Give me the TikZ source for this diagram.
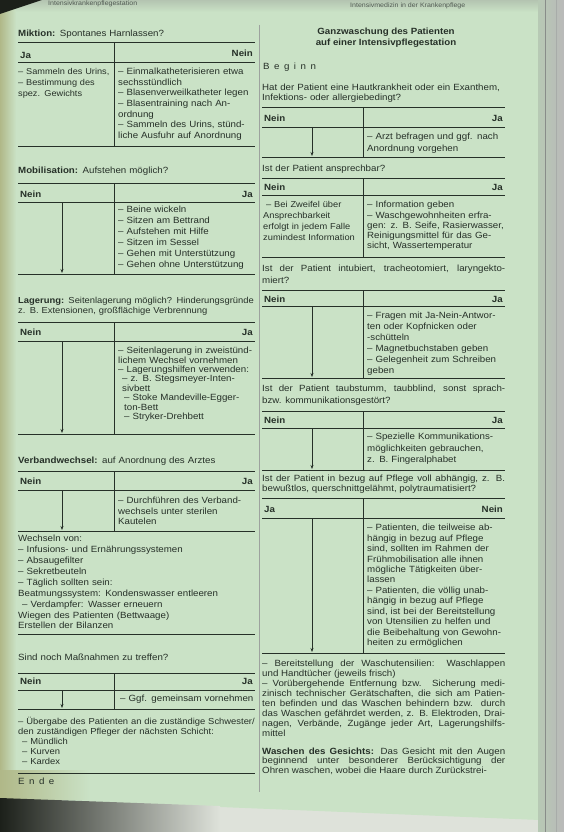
\documentclass[tikz,border=0pt]{standalone}
\usepackage{fontspec}
\setmainfont{Liberation Sans}[FakeStretch=1.08]
\usetikzlibrary{arrows.meta,positioning}
\definecolor{page}{RGB}{202,226,198}
\definecolor{ink}{RGB}{38,48,40}
\definecolor{edge}{RGB}{176,184,136}
\definecolor{shadow}{RGB}{28,32,26}
\definecolor{paper}{RGB}{222,226,218}
\newcommand\bodyfont{\fontsize{9}{10.6}\selectfont}
\tikzset{
  txt/.style={anchor=north west,inner sep=0pt,align=left,text=ink,font=\bodyfont},
  hdl/.style={anchor=west,inner sep=0pt,text=ink,font=\bodyfont\bfseries},
  hdr/.style={anchor=east,inner sep=0pt,text=ink,font=\bodyfont\bfseries},
  rulee/.style={draw=ink,line width=0.8pt},
  flow/.style={draw=ink,line width=0.6pt,-{Stealth[length=4pt,width=3pt]}},
}
\begin{document}
\begin{tikzpicture}[x=1pt,y=-1pt]
	\useasboundingbox (0,0) rectangle (564,832);
	% Seite
	\fill[paper] (0,0) rectangle (564,832);
	\fill[page] (0,0) -- (538,0) -- (540,820) -- (0,798) -- cycle;
	\shade[left color=edge,right color=page] (0,0) rectangle (16,798);
	\shade[top color=page!70!gray,bottom color=page] (16,0) rectangle (538,12);
	\fill[shadow] (0,0) -- (42,0) -- (0,14) -- cycle;
	\shade[left color=edge,right color=page] (0,770) rectangle (90,799);
	\shade[left color=shadow,right color=paper] (0,798) -- (220,806) -- (220,832) -- (0,832) -- cycle;
	\shade[left color=page!75!gray,right color=gray!55] (538,0) rectangle (564,832);
	\draw[ink!55,line width=0.8pt] (545,0) -- (545,832);
	\draw[ink!40,line width=0.6pt] (556,0) -- (556,832);
	\draw[ink!45,line width=0.6pt] (259,25) -- (259,792);

	\begin{scope}[every node/.style={txt,font=\fontsize{6.5}{7}\selectfont,text=ink!80}]
		\node (kopfL) at (48,1) {Intensivkrankenpflegestation};
		\node (kopfR) at (350,3) {Intensivmedizin in der Krankenpflege};
	\end{scope}

	% linke Spalte
	\foreach \y in {42,62,146,183,202,274,322,341,434,471,490,531,634,673,690,709,773}
		\draw[rulee] (18,\y) -- (255,\y);
	\draw[rulee] (114,42) -- (114,146);
	\draw[rulee] (114,183) -- (114,274);
	\draw[rulee] (114,322) -- (114,434);
	\draw[rulee] (114,471) -- (114,531);
	\draw[rulee] (114,673) -- (114,709);

	\node[txt,text width=237] (miktion) at (18,30) {\textbf{Miktion:} Spontanes Harnlassen?};
	\node[hdl] (miktionJa) at (20,55) {Ja};
	\node[hdr] (miktionNein) at (253,53) {Nein};
	\node[txt,text width=100,font=\fontsize{8.5}{11}\selectfont] (miktionL) at (18,68) {– Sammeln des Urins,\\– Bestimmung des\\spez. Gewichts};
	\node[txt,text width=140] (miktionR) at (118,68) {– Einmalkatheterisieren etwa\\sechsstündlich\\– Blasenverweilkatheter legen\\– Blasentraining nach An-\\ordnung\\– Sammeln des Urins, stünd-\\liche Ausfuhr auf Anordnung};

	\node[txt,text width=237] (mobil) at (18,167) {\textbf{Mobilisation:} Aufstehen möglich?};
	\node[hdl] (mobilNein) at (20,194) {Nein};
	\node[hdr] (mobilJa) at (253,194) {Ja};
	\node[txt,text width=140,font=\fontsize{9}{11}\selectfont] (mobilR) at (118,206) {– Beine wickeln\\– Sitzen am Bettrand\\– Aufstehen mit Hilfe\\– Sitzen im Sessel\\– Gehen mit Unterstützung\\– Gehen ohne Unterstützung};
	\coordinate (mobilA) at (62,202);
	\coordinate (mobilB) at (62,273);
	\draw[flow] (mobilA) -- (mobilB);

	\node[txt,text width=242,font=\fontsize{8.7}{10}\selectfont] (lager) at (18,297) {\textbf{Lagerung:} Seitenlagerung möglich? Hinderungsgründe\\z. B. Extensionen, großflächige Verbrennung};
	\node[hdl] (lagerNein) at (20,332) {Nein};
	\node[hdr] (lagerJa) at (253,332) {Ja};
	\node[txt,text width=140,font=\fontsize{9}{9.4}\selectfont] (lagerR) at (118,347) {– Seitenlagerung in zweistünd-\\lichem Wechsel vornehmen\\– Lagerungshilfen verwenden:\\\hspace*{4pt}– z. B. Stegsmeyer-Inten-\\\hspace*{4pt}sivbett\\\hspace*{6pt}– Stoke Mandeville-Egger-\\\hspace*{6pt}ton-Bett\\\hspace*{6pt}– Stryker-Drehbett};
	\coordinate (lagerA) at (62,341);
	\coordinate (lagerB) at (62,433);
	\draw[flow] (lagerA) -- (lagerB);

	\node[txt,text width=237] (verband) at (18,457) {\textbf{Verbandwechsel:} auf Anordnung des Arztes};
	\node[hdl] (verbandNein) at (20,481) {Nein};
	\node[hdr] (verbandJa) at (253,481) {Ja};
	\node[txt,text width=140] (verbandR) at (118,497) {– Durchführen des Verband-\\wechsels unter sterilen\\Kautelen};
	\coordinate (verbandA) at (62,490);
	\coordinate (verbandB) at (62,530);
	\draw[flow] (verbandA) -- (verbandB);

	\node[txt,text width=240,font=\fontsize{9}{10.9}\selectfont] (wechsel) at (18,535) {Wechseln von:\\– Infusions- und Ernährungssystemen\\– Absaugefilter\\– Sekretbeuteln\\– Täglich sollten sein:\\Beatmungssystem: Kondenswasser entleeren\\\hspace*{4pt}– Verdampfer: Wasser erneuern\\Wiegen des Patienten (Bettwaage)\\Erstellen der Bilanzen};

	\node[txt,text width=237] (massn) at (18,654) {Sind noch Maßnahmen zu treffen?};
	\node[hdl] (massnNein) at (20,681) {Nein};
	\node[hdr] (massnJa) at (253,681) {Ja};
	\node[txt,text width=140] (massnR) at (120,695) {– Ggf. gemeinsam vornehmen};
	\coordinate (massnA) at (62,690);
	\coordinate (massnB) at (62,708);
	\draw[flow] (massnA) -- (massnB);

	\node[txt,text width=242,font=\fontsize{8.7}{10}\selectfont] (uebergabe) at (18,717) {– Übergabe des Patienten an die zuständige Schwester/\\den zuständigen Pfleger der nächsten Schicht:\\\hspace*{4pt}– Mündlich\\\hspace*{4pt}– Kurven\\\hspace*{4pt}– Kardex};
	\node[txt] (ende) at (18,778) {E\enspace n\enspace d\enspace e};

	% rechte Spalte
	\foreach \y in {107,127,157,178,195,257,290,306,378,411,428,470,498,518,653}
		\draw[rulee] (262,\y) -- (505,\y);
	\draw[rulee] (363,107) -- (363,157);
	\draw[rulee] (363,178) -- (363,257);
	\draw[rulee] (363,290) -- (363,378);
	\draw[rulee] (363,411) -- (363,470);
	\draw[rulee] (363,498) -- (363,653);

	\node[txt,anchor=north,align=center,font=\fontsize{9}{10.5}\selectfont\bfseries] (titel) at (386,28) {Ganzwaschung des Patienten\\auf einer Intensivpflegestation};
	\node[txt] (beginn) at (263,63) {B\enspace e\enspace g\enspace i\enspace n\enspace n};

	\node[txt,text width=244,font=\fontsize{9}{9.8}\selectfont] (haut) at (262,84) {Hat der Patient eine Hautkrankheit oder ein Exanthem,\\Infektions- oder allergiebedingt?};
	\node[hdl] (hautNein) at (264,118) {Nein};
	\node[hdr] (hautJa) at (503,118) {Ja};
	\node[txt,text width=140,font=\fontsize{9}{11.5}\selectfont] (hautR) at (367,133) {– Arzt befragen und ggf. nach\\Anordnung vorgehen};
	\coordinate (hautA) at (312,127);
	\coordinate (hautB) at (312,156);
	\draw[flow] (hautA) -- (hautB);

	\node[txt,text width=244] (ansprech) at (262,165) {Ist der Patient ansprechbar?};
	\node[hdl] (ansprechNein) at (264,187) {Nein};
	\node[hdr] (ansprechJa) at (503,187) {Ja};
	\node[txt,text width=98,font=\fontsize{8.6}{11}\selectfont] (ansprechL) at (263,201) {\hspace*{3pt}– Bei Zweifel über\\Ansprechbarkeit\\erfolgt in jedem Falle\\zumindest Information};
	\node[txt,text width=140,font=\fontsize{9}{10.3}\selectfont] (ansprechR) at (367,201) {– Information geben\\– Waschgewohnheiten erfra-\\gen: z. B. Seife, Rasierwasser,\\Reinigungsmittel für das Ge-\\sicht, Wassertemperatur};

	\node[txt,text width=243,align=justify,font=\fontsize{9}{11.5}\selectfont] (intub) at (262,265) {Ist der Patient intubiert, tracheotomiert, laryngekto-\linebreak miert?};
	\node[hdl] (intubNein) at (264,299) {Nein};
	\node[hdr] (intubJa) at (503,299) {Ja};
	\node[txt,text width=140,font=\fontsize{9}{11}\selectfont] (intubR) at (367,312) {– Fragen mit Ja-Nein-Antwor-\\ten oder Kopfnicken oder\\-schütteln\\– Magnetbuchstaben geben\\– Gelegenheit zum Schreiben\\geben};
	\coordinate (intubA) at (312,306);
	\coordinate (intubB) at (312,377);
	\draw[flow] (intubA) -- (intubB);

	\node[txt,text width=243,align=justify,font=\fontsize{9}{11.5}\selectfont] (taub) at (262,385) {Ist der Patient taubstumm, taubblind, sonst sprach-\linebreak bzw. kommunikationsgestört?};
	\node[hdl] (taubNein) at (264,420) {Nein};
	\node[hdr] (taubJa) at (503,420) {Ja};
	\node[txt,text width=140,font=\fontsize{9}{11.3}\selectfont] (taubR) at (367,433) {– Spezielle Kommunikations-\\möglichkeiten gebrauchen,\\z. B. Fingeralphabet};
	\coordinate (taubA) at (312,428);
	\coordinate (taubB) at (312,469);
	\draw[flow] (taubA) -- (taubB);

	\node[txt,text width=243,align=justify,font=\fontsize{9}{10.2}\selectfont] (abh) at (262,475) {Ist der Patient in bezug auf Pflege voll abhängig, z. B.\linebreak bewußtlos, querschnittgelähmt, polytraumatisiert?};
	\node[hdl] (abhJa) at (264,509) {Ja};
	\node[hdr] (abhNein) at (503,509) {Nein};
	\node[txt,text width=142,font=\fontsize{9}{10.45}\selectfont] (abhR) at (367,524) {– Patienten, die teilweise ab-\\hängig in bezug auf Pflege\\sind, sollten im Rahmen der\\Frühmobilisation alle ihnen\\mögliche Tätigkeiten über-\\lassen\\– Patienten, die völlig unab-\\hängig in bezug auf Pflege\\sind, ist bei der Bereitstellung\\von Utensilien zu helfen und\\die Beibehaltung von Gewohn-\\heiten zu ermöglichen};
	\coordinate (abhA) at (312,518);
	\coordinate (abhB) at (312,652);
	\draw[flow] (abhA) -- (abhB);

	\node[txt,text width=243,align=justify,font=\fontsize{9}{9.9}\selectfont] (bereit) at (262,660) {– Bereitstellung der Waschutensilien: Waschlappen\linebreak und Handtücher (jeweils frisch)\\– Vorübergehende Entfernung bzw. Sicherung medi-\linebreak zinisch technischer Gerätschaften, die sich am Patien-\linebreak ten befinden und das Waschen behindern bzw. durch\linebreak das Waschen gefährdet werden, z. B. Elektroden, Drai-\linebreak nagen, Verbände, Zugänge jeder Art, Lagerungshilfs-\linebreak mittel};
	\node[txt,text width=243,align=justify,font=\fontsize{9}{9.2}\selectfont] (gesicht) at (262,748) {\parfillskip=0pt\relax\textbf{Waschen des Gesichts:} Das Gesicht mit den Augen\linebreak beginnend unter besonderer Berücksichtigung der\linebreak Ohren waschen, wobei die Haare durch Zurückstrei-};
\end{tikzpicture}
\end{document}
